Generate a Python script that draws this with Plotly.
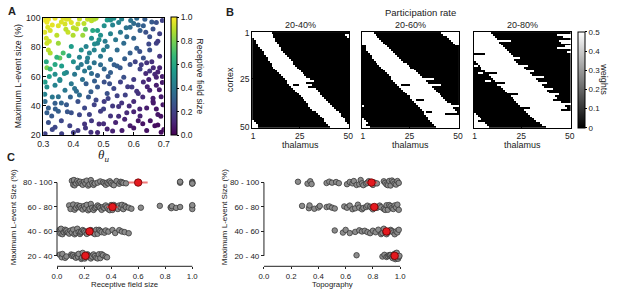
import plotly.graph_objects as go

W, H = 617, 294
FONT = "Liberation Sans, Arial, Helvetica, sans-serif"
TXT = "#222222"

# ---------------- Panel A data ----------------
theta_u = [
    0.304, 0.312, 0.317, 0.339, 0.366, 0.377, 0.393, 0.415, 0.447, 0.460,
    0.469, 0.512, 0.523, 0.534, 0.550, 0.600, 0.610, 0.637, 0.675, 0.315,
    0.323, 0.350, 0.372, 0.382, 0.399, 0.410, 0.431, 0.464, 0.480, 0.490,
    0.523, 0.556, 0.588, 0.621, 0.632, 0.664, 0.686, 0.653, 0.502, 0.577,
    0.312, 0.317, 0.323, 0.350, 0.366, 0.355, 0.393, 0.426, 0.442, 0.453,
    0.469, 0.480, 0.490, 0.512, 0.545, 0.567, 0.588, 0.610, 0.632, 0.653,
    0.675, 0.686, 0.447, 0.523, 0.312, 0.323, 0.339, 0.361, 0.339, 0.377,
    0.404, 0.426, 0.437, 0.453, 0.469, 0.502, 0.523, 0.545, 0.567, 0.588,
    0.621, 0.643, 0.653, 0.670, 0.686, 0.675, 0.480, 0.306, 0.312, 0.339,
    0.355, 0.372, 0.393, 0.404, 0.420, 0.442, 0.458, 0.480, 0.502, 0.512,
    0.534, 0.556, 0.572, 0.594, 0.615, 0.632, 0.653, 0.675, 0.691, 0.664,
    0.350, 0.306, 0.317, 0.312, 0.339, 0.350, 0.377, 0.393, 0.415, 0.437,
    0.453, 0.469, 0.490, 0.502, 0.523, 0.550, 0.577, 0.600, 0.621, 0.643,
    0.664, 0.680, 0.697, 0.328, 0.317, 0.339, 0.361, 0.388, 0.415, 0.437,
    0.458, 0.485, 0.512, 0.540, 0.561, 0.588, 0.615, 0.643, 0.670, 0.691,
    0.306, 0.305, 0.310, 0.320, 0.330, 0.345, 0.360, 0.375, 0.385, 0.400,
    0.420, 0.435, 0.455, 0.475, 0.440, 0.460, 0.470, 0.485, 0.500, 0.505,
    0.530, 0.540, 0.560, 0.575, 0.590, 0.600, 0.615, 0.640, 0.660, 0.695,
    0.680, 0.650, 0.620, 0.605, 0.625, 0.660, 0.665, 0.680, 0.695, 0.650,
    0.640, 0.570, 0.555, 0.535, 0.515, 0.490, 0.460, 0.445, 0.420, 0.415,
    0.400, 0.385, 0.370, 0.355, 0.320, 0.310, 0.345, 0.430, 0.470, 0.520,
    0.545, 0.580, 0.600, 0.610, 0.630, 0.645, 0.685, 0.695, 0.665, 0.675,
    0.690, 0.655, 0.620, 0.600, 0.560, 0.530, 0.500, 0.475, 0.450, 0.410,
    0.390, 0.360, 0.330, 0.305, 0.340, 0.380, 0.420, 0.460, 0.500, 0.530,
    0.570, 0.600, 0.630, 0.680, 0.700, 0.360, 0.330, 0.400, 0.440, 0.480,
    0.550, 0.585, 0.515,
]
max_event_size = [
    98.3, 96.8, 98.9, 99.6, 99.6, 98.9, 96.7, 95.6, 98.9, 97.8,
    98.9, 98.3, 98.3, 99.6, 96.7, 96.0, 99.6, 98.9, 96.7, 93.4,
    91.2, 94.5, 95.6, 90.1, 88.0, 92.3, 88.0, 91.2, 91.2, 88.0,
    89.0, 90.0, 93.4, 91.2, 94.5, 92.3, 89.0, 86.9, 94.5, 86.9,
    82.5, 78.0, 76.0, 82.5, 76.0, 72.6, 80.3, 78.0, 80.3, 76.0,
    78.0, 82.5, 73.7, 80.3, 78.0, 82.5, 76.0, 79.2, 72.6, 78.0,
    82.5, 73.7, 72.6, 71.5, 66.0, 65.0, 68.2, 67.1, 61.6, 62.7,
    61.6, 68.2, 63.8, 66.0, 69.3, 65.0, 62.7, 67.1, 59.5, 68.2,
    65.0, 69.3, 63.8, 61.6, 66.0, 59.5, 60.6, 56.2, 52.9, 54.0,
    57.3, 50.7, 55.1, 51.8, 47.4, 55.1, 49.6, 52.9, 56.2, 48.5,
    51.8, 56.2, 47.4, 52.9, 48.5, 56.2, 50.7, 54.0, 46.3, 45.2,
    46.3, 43.0, 38.6, 35.3, 41.9, 36.4, 40.8, 35.3, 43.0, 38.6,
    34.2, 40.8, 36.4, 43.0, 33.2, 39.7, 35.3, 43.0, 33.2, 38.6,
    43.0, 34.2, 40.8, 33.2, 28.8, 25.5, 21.1, 26.6, 23.3, 27.7,
    22.2, 27.7, 24.4, 28.8, 23.3, 26.6, 29.9, 23.3, 26.6, 22.2,
    21.1, 90.0, 86.0, 84.0, 95.0, 88.0, 97.0, 92.0, 99.0, 93.0,
    99.0, 96.0, 99.5, 99.5, 92.0, 86.0, 82.0, 85.0, 78.0, 84.0,
    95.0, 85.0, 99.0, 93.0, 98.0, 86.0, 95.0, 90.0, 97.0, 98.0,
    84.0, 82.0, 77.0, 70.0, 68.0, 70.0, 66.0, 63.0, 60.0, 58.0,
    62.0, 72.0, 66.0, 68.0, 60.0, 68.0, 62.0, 70.0, 73.0, 66.0,
    70.0, 74.0, 62.0, 58.0, 60.0, 70.0, 73.0, 58.0, 57.0, 55.0,
    47.0, 53.0, 58.0, 50.0, 46.0, 53.0, 51.0, 56.0, 42.0, 38.0,
    33.0, 30.0, 38.0, 36.0, 42.0, 40.0, 38.0, 44.0, 46.0, 50.0,
    46.0, 42.0, 46.0, 48.0, 38.0, 36.0, 34.0, 30.0, 28.0, 23.0,
    31.0, 25.0, 28.0, 27.0, 24.0, 30.0, 24.0, 22.0, 25.0, 22.0,
    33.0, 40.0, 45.0,
]
receptive_field = [
    0.97, 0.97, 0.98, 0.97, 0.96, 0.95, 0.95, 0.93, 0.92, 0.90,
    0.88, 0.55, 0.50, 0.50, 0.45, 0.35, 0.35, 0.30, 0.25, 0.95,
    0.94, 0.95, 0.94, 0.92, 0.88, 0.90, 0.85, 0.60, 0.55, 0.50,
    0.45, 0.40, 0.35, 0.30, 0.30, 0.25, 0.20, 0.25, 0.50, 0.35,
    0.92, 0.90, 0.88, 0.85, 0.70, 0.75, 0.55, 0.50, 0.45, 0.45,
    0.45, 0.45, 0.40, 0.40, 0.35, 0.35, 0.30, 0.30, 0.25, 0.25,
    0.20, 0.15, 0.45, 0.35, 0.80, 0.65, 0.60, 0.55, 0.50, 0.45,
    0.40, 0.40, 0.40, 0.40, 0.38, 0.33, 0.30, 0.30, 0.25, 0.25,
    0.20, 0.15, 0.15, 0.12, 0.10, 0.10, 0.30, 0.55, 0.50, 0.45,
    0.45, 0.40, 0.40, 0.38, 0.35, 0.30, 0.30, 0.28, 0.25, 0.25,
    0.22, 0.20, 0.20, 0.18, 0.15, 0.12, 0.10, 0.08, 0.08, 0.08,
    0.38, 0.35, 0.30, 0.30, 0.30, 0.30, 0.28, 0.25, 0.25, 0.22,
    0.20, 0.20, 0.18, 0.18, 0.15, 0.15, 0.12, 0.12, 0.10, 0.08,
    0.08, 0.06, 0.06, 0.28, 0.25, 0.22, 0.20, 0.20, 0.18, 0.15,
    0.15, 0.12, 0.10, 0.10, 0.08, 0.07, 0.06, 0.05, 0.04, 0.03,
    0.20, 0.95, 0.93, 0.92, 0.96, 0.90, 0.95, 0.90, 0.95, 0.90,
    0.92, 0.90, 0.90, 0.88, 0.75, 0.50, 0.48, 0.50, 0.45, 0.42,
    0.45, 0.40, 0.45, 0.38, 0.38, 0.32, 0.32, 0.25, 0.28, 0.20,
    0.18, 0.22, 0.25, 0.20, 0.18, 0.14, 0.12, 0.10, 0.08, 0.10,
    0.12, 0.30, 0.28, 0.30, 0.28, 0.35, 0.35, 0.40, 0.45, 0.42,
    0.50, 0.55, 0.50, 0.48, 0.55, 0.60, 0.65, 0.38, 0.30, 0.25,
    0.20, 0.18, 0.18, 0.15, 0.12, 0.10, 0.07, 0.07, 0.07, 0.06,
    0.05, 0.05, 0.10, 0.10, 0.15, 0.17, 0.20, 0.22, 0.28, 0.35,
    0.32, 0.32, 0.40, 0.45, 0.30, 0.27, 0.22, 0.17, 0.13, 0.10,
    0.10, 0.06, 0.05, 0.03, 0.03, 0.22, 0.22, 0.18, 0.16, 0.12,
    0.13, 0.12, 0.20,
]
a_xticks = [0.3, 0.4, 0.5, 0.6, 0.7]
a_yticks = [20, 40, 60, 80, 100]
a_cbar_ticks = [0.0, 0.2, 0.4, 0.6, 0.8, 1.0]

# ---------------- Panel B data (white band per cortex row: first/last thalamus column) ----------------
rate_titles = ["20-40%", "20-60%", "20-80%"]
hm1_start = [1, 1, 1, 2, 3, 3, 4, 4, 5, 6, 7, 7, 8, 9, 9, 10, 11, 11, 12, 13,
             14, 15, 16, 17, 18, 19, 19, 20, 21, 22, 23, 24, 25, 26, 27, 28, 29, 30, 30, 31,
             32, 34, 35, 36, 37, 38, 38, 39, 40, 41]
hm1_end = [10, 11, 11, 12, 12, 13, 14, 14, 15, 15, 16, 17, 18, 19, 20, 21, 21, 22, 23, 24,
           25, 26, 27, 28, 30, 32, 28, 31, 29, 33, 34, 35, 35, 36, 37, 38, 39, 40, 41, 42,
           43, 45, 46, 46, 47, 48, 48, 49, 50, 50]
hm1_extra = [(2, 49, 50, 0.5), (3, 50, 50, 0.5), (28, 22, 24, 0.0), (47, 1, 1, 0.5),
             (48, 1, 2, 0.5), (49, 1, 3, 0.5), (50, 1, 3, 0.5)]

hm2_start = [1, 1, 1, 1, 1, 1, 1, 3, 3, 3, 4, 5, 6, 6, 7, 8, 9, 10, 11, 12,
             13, 14, 15, 16, 16, 17, 18, 19, 20, 21, 22, 23, 24, 26, 26, 27, 28, 29, 30, 31,
             32, 33, 33, 34, 35, 35, 36, 37, 38, 39]
hm2_end = [6, 7, 8, 9, 10, 11, 12, 13, 14, 15, 16, 17, 18, 19, 20, 21, 23, 24, 25, 27,
           28, 29, 30, 31, 37, 33, 34, 41, 36, 37, 38, 39, 40, 41, 42, 43, 44, 46, 50, 47,
           48, 49, 43, 50, 50, 50, 50, 50, 50, 50]
hm2_extra = [(28, 21, 25, 0.0), (36, 29, 32, 0.0), (42, 34, 36, 0.0),
             (1, 42, 50, 0.5), (2, 43, 50, 0.5), (3, 45, 50, 0.5), (4, 46, 50, 0.5),
             (5, 47, 50, 0.5), (6, 48, 50, 0.5), (7, 49, 50, 0.5),
             (39, 1, 1, 0.5), (46, 1, 1, 0.5), (47, 1, 2, 0.5), (48, 1, 3, 0.5),
             (49, 1, 2, 0.5), (50, 1, 4, 0.5)]

hm3_start = [1, 1, 1, 1, 1, 1, 1, 1, 1, 1, 1, 7, 1, 1, 1, 2, 3, 4, 5, 5,
             7, 8, 9, 10, 11, 12, 12, 13, 15, 16, 17, 18, 19, 20, 21, 22, 23, 24, 25, 26,
             27, 28, 29, 30, 31, 32, 33, 35, 36, 38]
hm3_end = [9, 10, 11, 12, 19, 13, 14, 15, 16, 17, 18, 19, 20, 24, 21, 22, 23, 28, 26, 27,
           31, 29, 30, 36, 32, 33, 38, 35, 36, 41, 38, 39, 44, 42, 43, 41, 45, 50, 47, 48,
           45, 50, 50, 50, 50, 50, 50, 50, 50, 50]
hm3_extra = [(2, 44, 50, 0.5), (3, 47, 50, 0.5), (5, 45, 50, 0.5), (6, 46, 50, 0.5),
             (8, 48, 50, 0.5), (9, 44, 50, 0.5), (11, 49, 50, 0.5),
             (22, 8, 12, 0.0), (27, 12, 16, 0.0), (33, 19, 23, 0.0), (40, 26, 29, 0.0),
             (18, 1, 2, 0.5), (22, 3, 5, 0.5), (26, 7, 9, 0.5),
             (43, 1, 1, 0.5), (44, 1, 2, 0.5), (45, 1, 3, 0.5), (46, 1, 4, 0.5),
             (47, 1, 2, 0.5), (48, 1, 6, 0.5), (49, 1, 7, 0.5), (50, 1, 8, 0.5)]
b_ticks = [1, 25, 50]
b_cbar_ticks = [0, 0.1, 0.2, 0.3, 0.4, 0.5]

# ---------------- Panel C data ----------------
size_bins = ["20 - 40", "40 - 60", "60 - 80", "80 - 100"]
rf_20_40 = [0.02, 0.035, 0.04, 0.06, 0.07, 0.105, 0.11, 0.12, 0.13, 0.14, 0.15, 0.155,
            0.16, 0.18, 0.185, 0.19, 0.2, 0.205, 0.21, 0.22, 0.225, 0.23, 0.24, 0.25,
            0.255, 0.26, 0.27, 0.28, 0.29, 0.3, 0.31, 0.32, 0.33, 0.34, 0.36, 0.37]
rf_40_60 = [0.02, 0.025, 0.03, 0.04, 0.05, 0.06, 0.065, 0.07, 0.08, 0.09, 0.1, 0.11,
            0.12, 0.13, 0.14, 0.15, 0.16, 0.17, 0.175, 0.18, 0.19, 0.2, 0.21, 0.22,
            0.23, 0.24, 0.25, 0.26, 0.27, 0.28, 0.29, 0.3, 0.31, 0.32, 0.33, 0.35,
            0.36, 0.38, 0.41, 0.43, 0.46, 0.48, 0.5, 0.53]
rf_60_80 = [0.09, 0.1, 0.12, 0.13, 0.14, 0.15, 0.16, 0.17, 0.18, 0.19, 0.2, 0.21,
            0.22, 0.23, 0.24, 0.25, 0.26, 0.27, 0.28, 0.29, 0.3, 0.31, 0.32, 0.33,
            0.34, 0.35, 0.36, 0.37, 0.38, 0.39, 0.4, 0.41, 0.42, 0.43, 0.44, 0.45,
            0.46, 0.47, 0.48, 0.49, 0.5, 0.51, 0.53, 0.55, 0.62, 0.76, 0.84, 0.845,
            0.85, 0.88, 0.91, 1.0, 1.0, 1.0]
rf_80_100 = [0.11, 0.12, 0.125, 0.13, 0.14, 0.15, 0.16, 0.17, 0.18, 0.19, 0.2, 0.21,
             0.22, 0.23, 0.24, 0.25, 0.26, 0.27, 0.28, 0.3, 0.32, 0.34, 0.35, 0.36,
             0.37, 0.38, 0.39, 0.4, 0.41, 0.42, 0.44, 0.46, 0.47, 0.48, 0.49, 0.51,
             0.91, 0.91, 0.91, 1.0, 1.0, 1.0, 1.0]
topo_20_40 = [0.68, 0.87, 0.885, 0.9, 0.91, 0.92, 0.925, 0.93, 0.94, 0.945, 0.95, 0.955,
              0.96, 0.965, 0.97, 0.975, 0.98, 0.985, 0.99, 0.995]
topo_40_60 = [0.52, 0.58, 0.6, 0.63, 0.67, 0.7, 0.72, 0.74, 0.76, 0.78, 0.8, 0.82, 0.84,
              0.86, 0.87, 0.88, 0.89, 0.9, 0.91, 0.92, 0.93, 0.94, 0.95, 0.96, 0.97,
              0.98, 0.99]
topo_60_80 = [0.28, 0.33, 0.335, 0.37, 0.4, 0.41, 0.46, 0.48, 0.5, 0.52, 0.59, 0.61,
              0.63, 0.65, 0.67, 0.69, 0.7, 0.72, 0.73, 0.75, 0.76, 0.78, 0.79, 0.8,
              0.82, 0.83, 0.85, 0.86, 0.88, 0.89, 0.9, 0.91, 0.92, 0.93, 0.94, 0.95,
              0.96, 0.97, 0.98, 0.99]
topo_80_100 = [0.25, 0.32, 0.34, 0.35, 0.46, 0.48, 0.5, 0.53, 0.55, 0.61, 0.63, 0.65,
               0.66, 0.68, 0.7, 0.71, 0.72, 0.73, 0.75, 0.76, 0.77, 0.78, 0.79, 0.8,
               0.81, 0.83, 0.88, 0.89, 0.9, 0.91, 0.92, 0.93, 0.94, 0.95, 0.96, 0.97,
               0.98, 0.99]
rf_means = [0.21, 0.24, 0.41, 0.60]
rf_err = [0.02, 0.02, 0.04, 0.07]
topo_means = [0.96, 0.90, 0.81, 0.79]
topo_err = [0.015, 0.02, 0.03, 0.04]
c_xticks = [0.0, 0.2, 0.4, 0.6, 0.8, 1.0]


def px(x):
    return x / W


def py(y):
    return 1 - y / H


def build_matrix(starts, ends, extras):
    z = [[0.0] * 50 for _ in range(50)]
    for r in range(50):
        for c in range(starts[r] - 1, ends[r]):
            z[r][c] = 0.5
    for (r, c0, c1, v) in extras:
        for c in range(c0 - 1, c1):
            z[r - 1][c] = v
    return z


def tfont(size, color=TXT):
    return dict(family=FONT, size=size, color=color)


fig = go.Figure()

# ---- Panel A ----
fig.add_trace(go.Scatter(
    x=theta_u, y=max_event_size, mode="markers", xaxis="x", yaxis="y",
    marker=dict(size=5, color=receptive_field, colorscale="Viridis", cmin=0, cmax=1,
                line=dict(width=0),
                colorbar=dict(x=px(168), xanchor="left", xpad=0, ypad=0,
                              y=py(74), yanchor="middle", len=122 / H, lenmode="fraction",
                              thickness=6, thicknessmode="pixels",
                              outlinewidth=1, outlinecolor="black",
                              tickvals=a_cbar_ticks, ticktext=[f"{v:.1f}" for v in a_cbar_ticks],
                              ticks="outside", ticklen=2, tickcolor="black",
                              tickfont=tfont(8.5))),
    showlegend=False, hoverinfo="skip"))

# ---- Panel B ----
mats = [build_matrix(hm1_start, hm1_end, hm1_extra),
        build_matrix(hm2_start, hm2_end, hm2_extra),
        build_matrix(hm3_start, hm3_end, hm3_extra)]
idx = list(range(1, 51))
for k, z in enumerate(mats):
    fig.add_trace(go.Heatmap(
        z=z, x=idx, y=idx, xaxis=f"x{k + 2}", yaxis=f"y{k + 2}",
        colorscale=[[0, "#000000"], [1, "#ffffff"]], zmin=0, zmax=0.5,
        showscale=(k == 2), hoverinfo="skip",
        colorbar=dict(x=px(583), xanchor="left", xpad=0, ypad=0,
                      y=py(77.5), yanchor="middle", len=99 / H, lenmode="fraction",
                      thickness=7, thicknessmode="pixels",
                      outlinewidth=1, outlinecolor="black",
                      tickvals=b_cbar_ticks, ticktext=["0", "0.1", "0.2", "0.3", "0.4", "0.5"],
                      ticks="outside", ticklen=2, tickcolor="black",
                      tickfont=tfont(8))))

# ---- Panel C ----
for axn, groups, means, errs in [
    ("5", [rf_20_40, rf_40_60, rf_60_80, rf_80_100], rf_means, rf_err),
    ("6", [topo_20_40, topo_40_60, topo_60_80, topo_80_100], topo_means, topo_err),
]:
    for i, vals in enumerate(groups):
        fig.add_trace(go.Box(
            x=vals, y0=i, orientation="h", boxpoints="all", jitter=0.8, pointpos=0,
            width=0.35, fillcolor="rgba(0,0,0,0)",
            line=dict(color="rgba(0,0,0,0)", width=0),
            marker=dict(size=5.5, color="#8c8c8c", line=dict(color="#3a3a3a", width=0.8)),
            xaxis="x" + axn, yaxis="y" + axn, showlegend=False, hoverinfo="skip"))
    fig.add_trace(go.Scatter(
        x=means, y=list(range(len(size_bins))), mode="markers",
        xaxis="x" + axn, yaxis="y" + axn,
        error_x=dict(type="data", array=errs, color="rgba(235,80,80,0.75)",
                     thickness=2, width=0),
        marker=dict(size=7.5, color="#e3191f", line=dict(color="#6b0000", width=0.8)),
        showlegend=False, hoverinfo="skip"))

# ---- Axes ----
box_axis = dict(showline=True, mirror=True, linecolor="black", linewidth=1,
                showgrid=False, zeroline=False, ticks="outside", ticklen=3,
                tickcolor="black", tickfont=tfont(9))

layout = dict(
    width=W, height=H, margin=dict(l=0, r=0, t=0, b=0),
    paper_bgcolor="white", plot_bgcolor="white",
    font=tfont(9), showlegend=False,
    xaxis=dict(box_axis, domain=[px(38), px(161)], range=[0.3, 0.7], anchor="y",
               ticks="inside", tickvals=a_xticks, ticktext=[f"{v:.1f}" for v in a_xticks],
               tickfont=tfont(8.7)),
    yaxis=dict(box_axis, domain=[py(135), py(13)], range=[20, 100], anchor="x",
               ticks="inside", tickvals=a_yticks, tickfont=tfont(8.7)),
)

b_dom = [(251, 350), (363, 462), (477, 576)]
for k, (x0, x1) in enumerate(b_dom):
    n = k + 2
    layout[f"xaxis{n}"] = dict(box_axis, domain=[px(x0), px(x1)], range=[0.5, 50.5],
                               anchor=f"y{n}", tickvals=b_ticks, ticks="inside", ticklen=2,
                               tickfont=tfont(8.5))
    layout[f"yaxis{n}"] = dict(box_axis, domain=[py(127), py(28)], range=[50.5, 0.5],
                               anchor=f"x{n}", tickvals=b_ticks, ticks="inside", ticklen=2,
                               showticklabels=(k == 0), tickfont=tfont(8.5))

c_axes = [("5", 46.5, 195.5, 52), ("6", 257.5, 407.5, 263)]
for n, x0, x1, yline in c_axes:
    layout["xaxis" + n] = dict(domain=[px(x0), px(x1)], range=[-0.04, 1.04],
                               anchor="y" + n, showline=False, showgrid=False,
                               zeroline=False, ticks="outside", ticklen=2,
                               tickcolor="#222", tickvals=c_xticks,
                               ticktext=[f"{v:.1f}" for v in c_xticks],
                               tickfont=tfont(7.8))
    layout["yaxis" + n] = dict(domain=[py(270.5), py(175)], range=[-0.43, 3.35],
                               anchor="free", position=px(yline), showline=False,
                               showgrid=False, zeroline=False, ticks="outside",
                               ticklen=3, tickcolor="#222",
                               tickvals=list(range(len(size_bins))), ticktext=size_bins,
                               tickfont=tfont(8))

shapes = []
for n, _, _, _ in c_axes:
    shapes.append(dict(type="line", xref="x" + n, yref="y" + n, x0=0, x1=0, y0=0, y1=3,
                       line=dict(color="#222", width=1)))
    shapes.append(dict(type="line", xref="x" + n, yref="y" + n + " domain", x0=0, x1=1,
                       y0=0, y1=0, line=dict(color="#222", width=1)))
layout["shapes"] = shapes


def ann(text, x, y, size, angle=0, bold=False, family=FONT):
    return dict(text=f"<b>{text}</b>" if bold else text, x=px(x), y=py(y),
                xref="paper", yref="paper", xanchor="center", yanchor="middle",
                showarrow=False, textangle=angle, font=dict(family=family, size=size, color=TXT))


annotations = [
    ann("A", 6, 6, 11, bold=True),
    ann("B", 228, 7, 11, bold=True),
    ann("C", 5, 157, 11, bold=True),
    ann("Maximum L-event size (%)", 13, 74, 8.8, angle=-90),
    ann("<i>θ</i><sub><i>u</i></sub>", 99, 156, 13, family="Liberation Serif, DejaVu Serif, serif"),
    ann("Receptive field size", 197, 74, 8.8, angle=90),
    ann("Participation rate", 423, 8, 9.5),
    ann("cortex", 229, 77, 9, angle=-90),
    ann("weights", 609, 77, 9, angle=90),
    ann("Maximum L-event Size (%)", 8, 220, 8, angle=-90),
    ann("Maximum L-event Size (%)", 223, 220, 8, angle=-90),
    ann("Receptive field size", 121, 289, 7.8),
    ann("Topography", 332.5, 289, 7.8),
]
for (x0, x1), t in zip(b_dom, rate_titles):
    annotations.append(ann(t, (x0 + x1) / 2, 21, 9))
    annotations.append(ann("thalamus", (x0 + x1) / 2, 145, 9))
layout["annotations"] = annotations

fig.update_layout(**layout)
fig.write_html("out.html", config={"displayModeBar": False},
               post_script="document.body.style.margin='0';document.body.style.padding='0';")
